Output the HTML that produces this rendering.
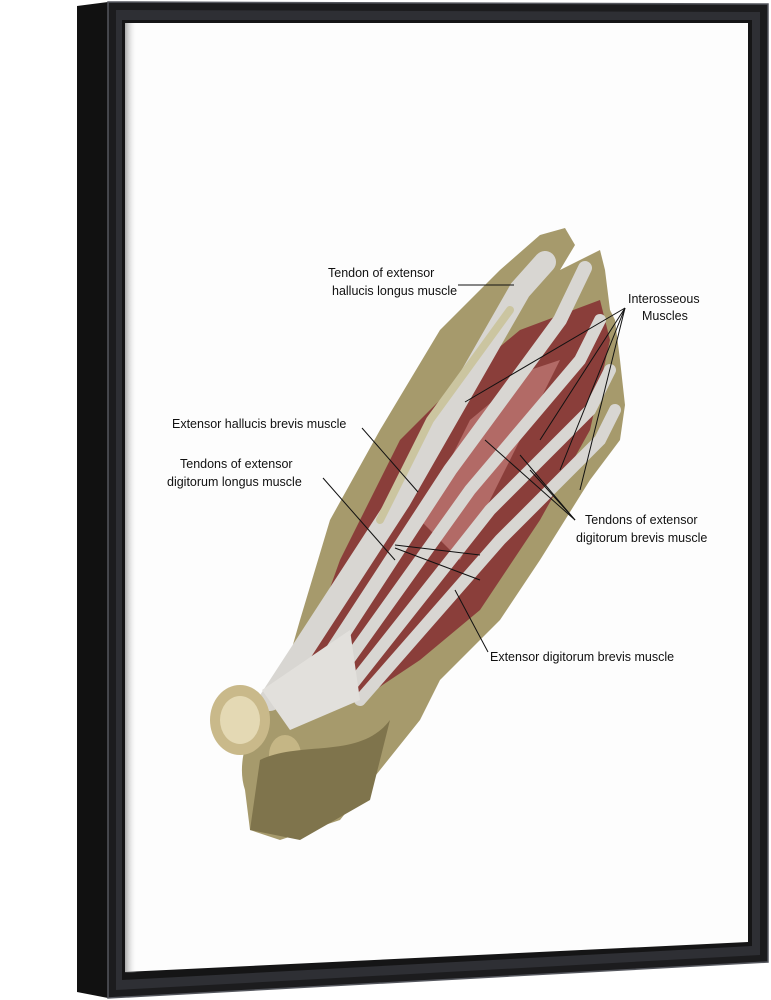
<!DOCTYPE html>
<html><head><style>
body{margin:0;width:771px;height:1000px;background:#fff;overflow:hidden;font-family:"Liberation Sans",sans-serif}
svg{position:absolute;left:0;top:0}
text{font-family:"Liberation Sans",sans-serif;font-size:12.5px;fill:#111}
</style></head><body>
<svg width="771" height="1000" viewBox="0 0 771 1000">
<defs>
<linearGradient id="sh" x1="0" x2="1"><stop offset="0" stop-color="#444"/><stop offset="1" stop-color="#fff" stop-opacity="0"/></linearGradient>
</defs>
<polygon points="77,6 108,2 108,998 77,992" fill="#111"/>
<polygon points="108,2 768,4 768,962 108,998" fill="#1c1c1e"/>
<polygon points="108,2 768,4 768,962 108,998" fill="none" stroke="#55575e" stroke-width="1.5"/>
<polygon points="116,10 760,12 760,955 116,990" fill="#2e2f34"/>
<polygon points="122,20 752,20 752,946 122,980" fill="#151516"/>
<polygon points="125,23 748,23 748,942 125,972" fill="#fdfdfd"/>
<rect x="125" y="23" width="12" height="950" fill="url(#sh)" opacity="0.45"/>
<g>
<path d="M245,790 C235,760 250,720 280,690 L300,620 L330,520 L380,430 L440,330 L500,270 L540,235 L565,228 L575,245 L560,270 L600,250 L605,270 L610,310 L615,320 L620,360 L625,405 L620,440 L590,480 L540,560 L500,620 L440,680 L420,720 L380,770 L340,820 L280,840 L250,830 Z" fill="#a69a6c"/>
<path d="M290,700 L340,560 L400,440 L460,380 L520,330 L600,300 L610,340 L590,430 L540,520 L480,610 L420,660 L360,700 Z" fill="#8a3e3a"/>
<path d="M420,520 L470,420 L530,370 L560,360 L500,480 L460,560 Z" fill="#b26a66"/>
<g stroke="#d8d6d2" stroke-linecap="round" fill="none">
<path d="M270,700 L400,500 L520,290 L545,262" stroke-width="22"/>
<path d="M300,700 L450,470 L560,320 L585,268" stroke-width="14"/>
<path d="M320,700 L470,490 L580,360 L600,320" stroke-width="12"/>
<path d="M340,700 L490,510 L590,410 L610,370" stroke-width="12"/>
<path d="M360,700 L500,540 L600,440 L615,410" stroke-width="12"/>
<path d="M380,520 L430,420 L510,310" stroke-width="8" stroke="#cbc5a0"/>
</g>
<path d="M262,690 L350,630 L360,700 L290,730 Z" fill="#e2e0dc"/>
<ellipse cx="240" cy="720" rx="30" ry="35" fill="#c9b98a"/>
<ellipse cx="240" cy="720" rx="20" ry="24" fill="#e4d9b4"/>
<ellipse cx="285" cy="755" rx="16" ry="20" fill="#c5b685"/>
<path d="M260,760 C300,740 360,760 390,720 L370,800 L300,840 L250,830 Z" fill="#7f744c"/>
</g>
<g stroke="#111" stroke-width="1" fill="none">
<line x1="458" y1="285" x2="514" y2="285"/>
<line x1="625" y1="308" x2="465" y2="402"/>
<line x1="625" y1="308" x2="540" y2="440"/>
<line x1="625" y1="308" x2="560" y2="470"/>
<line x1="625" y1="308" x2="580" y2="490"/>
<line x1="362" y1="428" x2="418" y2="492"/>
<line x1="323" y1="478" x2="395" y2="560"/>
<line x1="395" y1="545" x2="480" y2="555"/>
<line x1="395" y1="548" x2="480" y2="580"/>
<line x1="575" y1="520" x2="485" y2="440"/>
<line x1="575" y1="520" x2="520" y2="455"/>
<line x1="575" y1="520" x2="530" y2="470"/>
<line x1="488" y1="652" x2="455" y2="590"/>
</g>
<text x="328" y="277">Tendon of extensor</text>
<text x="332" y="295">hallucis longus muscle</text>
<text x="628" y="303">Interosseous</text>
<text x="642" y="320">Muscles</text>
<text x="172" y="428">Extensor hallucis brevis muscle</text>
<text x="180" y="468">Tendons of extensor</text>
<text x="167" y="486">digitorum longus muscle</text>
<text x="585" y="524">Tendons of extensor</text>
<text x="576" y="542">digitorum brevis muscle</text>
<text x="490" y="661">Extensor digitorum brevis muscle</text>
</svg>
</body></html>
